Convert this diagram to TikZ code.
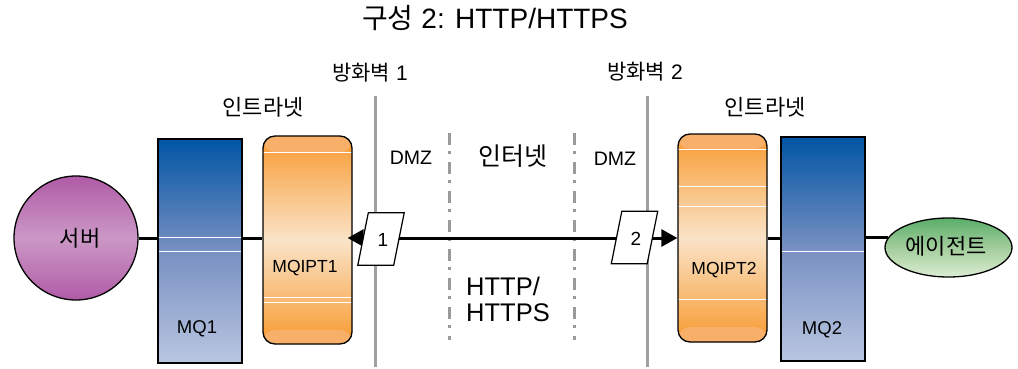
\documentclass[tikz,border=0pt]{standalone}
\usepackage{fontspec}
\setmainfont{Liberation Sans}
\newfontfamily\kr{Noto Sans CJK KR}
\usetikzlibrary{shapes.geometric,arrows.meta,calc}
\definecolor{purpleE}{HTML}{B05BA6}
\definecolor{purpleM}{HTML}{CB98C6}
\definecolor{blueT}{HTML}{0055A4}
\definecolor{blueM}{HTML}{7890C2}
\definecolor{blueB}{HTML}{B9C6E1}
\definecolor{orangeD}{HTML}{F89A30}
\definecolor{orangeL}{HTML}{FAE3C8}
\definecolor{orangeBand}{HTML}{F7AF69}
\definecolor{greenT}{HTML}{5AAE6A}
\definecolor{greenM}{HTML}{A3CD9C}
\definecolor{greenB}{HTML}{DCEDD3}
\definecolor{wallgray}{HTML}{A0A0A0}
\definecolor{dashgray}{HTML}{9A9A9A}
\tikzset{
  shapeborder/.style={draw=black, line width=1.3pt, inner sep=0pt},
  mqbox/.style={shapeborder, minimum width=84pt, minimum height=224pt,
    top color=blueT, bottom color=blueB, middle color=blueM},
  iptbox/.style={shapeborder, rounded corners=12pt, minimum width=89pt, minimum height=208pt,
    top color=orangeD, bottom color=orangeD, middle color=orangeL},
  pgframe/.style={rectangle, minimum width=46pt, minimum height=52pt, inner sep=0pt},
  pgdraw/.style={draw=black, line width=1.2pt, fill=white, line join=miter},
  wall/.style={draw=wallgray, line width=3pt},
  zone/.style={draw=dashgray, line width=3pt, dash pattern=on 12pt off 6pt on 3pt off 8pt},
  conn/.style={draw=black, line width=3pt},
  arr/.style={conn, -{Triangle[length=16pt,width=17pt]}},
  wline/.style={draw=white, line width=1pt},
  txt/.style={inner sep=0pt, text=black},
}
\newcommand{\whiteat}[1]{\draw[wline] ([yshift=-#1pt]path picture bounding box.north west) -- ([yshift=-#1pt]path picture bounding box.north east);}
\newcommand{\pgshape}[1]{\draw[pgdraw] (#1.south west) -- ([xshift=-10.5pt]#1.south east) -- (#1.north east) -- ([xshift=10.5pt]#1.north west) -- cycle;}
\begin{document}
\begin{tikzpicture}[x=1pt,y=-1pt]
\useasboundingbox[fill=white] (0,0) rectangle (1018,369);

% title
\node[txt, font=\fontsize{28}{32}\selectfont] (title) at (495,18) {{\kr 구성} 2: HTTP/HTTPS};

% firewalls
\node[txt, font=\fontsize{21}{24}\selectfont] (fw1) at (370,73) {{\kr 방화벽} 1};
\node[txt, font=\fontsize{21}{24}\selectfont] (fw2) at (645,72) {{\kr 방화벽} 2};
\coordinate (fw1t) at (375,96);
\coordinate (fw1b) at (375,367);
\coordinate (fw2t) at (647,96);
\coordinate (fw2b) at (647,367);
\draw[wall] (fw1t) -- (fw1b);
\draw[wall] (fw2t) -- (fw2b);

% zone boundaries
\coordinate (z1t) at (449,133);
\coordinate (z1b) at (449,340);
\coordinate (z2t) at (574,133);
\coordinate (z2b) at (574,340);
\draw[zone] (z1t) -- (z1b);
\draw[zone] (z2t) -- (z2b);

% zone labels
\node[txt, font=\kr\fontsize{22}{26}\selectfont] (intra1) at (263,107) {인트라넷};
\node[txt, font=\kr\fontsize{22}{26}\selectfont] (intra2) at (765,107) {인트라넷};
\node[txt, font=\fontsize{19.5}{22}\selectfont] (dmz1) at (411,158) {DMZ};
\node[txt, font=\fontsize{19.5}{22}\selectfont] (dmz2) at (615,159) {DMZ};
\node[txt, font=\kr\fontsize{25}{28}\selectfont] (inet) at (513,156) {인터넷};
\node[txt, font=\fontsize{25.5}{26}\selectfont, align=left, anchor=west] (proto) at (466,299) {HTTP/\\HTTPS};

% server
\node[shapeborder, circle, minimum size=124pt, top color=purpleE, bottom color=purpleE, middle color=purpleM] (srv) at (76,238) {};
\node[txt, font=\kr\fontsize{22}{26}\selectfont] (tsrv) at (80,238) {서버};

% MQ1
\node[mqbox, path picture={\whiteat{98}\whiteat{112}}] (mq1) at (200,251) {};
\node[txt, font=\fontsize{18.5}{22}\selectfont] (tmq1) at (197,329) {MQ1};

% MQIPT1
\node[iptbox, path picture={
    \fill[orangeBand] (path picture bounding box.north west) rectangle ([yshift=-16pt]path picture bounding box.north east);
    \fill[orangeBand] ([yshift=14pt]path picture bounding box.south west) rectangle (path picture bounding box.south east);
    \whiteat{16}\whiteat{161}\whiteat{166}}] (ipt1) at (307.5,240) {};
\node[txt, font=\fontsize{17.5}{20}\selectfont] (tipt1) at (305,268) {MQIPT1};

% MQIPT2
\node[iptbox, path picture={
    \fill[orangeBand] (path picture bounding box.north west) rectangle ([yshift=-15pt]path picture bounding box.north east);
    \fill[orangeBand] ([yshift=15pt]path picture bounding box.south west) rectangle (path picture bounding box.south east);
    \whiteat{15}\whiteat{52}\whiteat{72}\whiteat{165}}] (ipt2) at (722.5,238) {};
\node[txt, font=\fontsize{17.5}{20}\selectfont] (tipt2) at (724,270) {MQIPT2};

% MQ2
\node[mqbox, path picture={\whiteat{114}}] (mq2) at (823,249) {};
\node[txt, font=\fontsize{18.5}{22}\selectfont] (tmq2) at (822,330) {MQ2};

% agent
\node[shapeborder, ellipse, minimum width=127pt, minimum height=59pt, top color=greenT, bottom color=greenB, middle color=greenM] (agent) at (948.5,247.5) {};
\node[txt, font=\kr\fontsize{22}{26}\selectfont] (tagent) at (946,246) {에이전트};

% parallelogram frames
\node[pgframe] (p1) at (381,239) {};
\node[pgframe] (p2) at (634.5,237.5) {};

% connectors
\draw[conn] (srv.east) -- (srv.east -| mq1.west);
\draw[conn] (mq1.east |- srv.east) -- (srv.east -| ipt1.west);
\draw[arr] (p1.center |- srv.east) -- ([xshift=-5pt]ipt1.east |- srv.east);
\draw[conn] (p1.center |- srv.east) -- (p2.center |- srv.east);
\draw[arr] (p2.center |- srv.east) -- (ipt2.west |- srv.east);
\draw[conn] (ipt2.east |- srv.east) -- (srv.east -| mq2.west);
\draw[conn] (agent.171 -| mq2.east) -- (agent.171);

% parallelograms on top
\pgshape{p1}
\pgshape{p2}
\node[txt, font=\fontsize{19}{22}\selectfont] (tp1) at (383,240) {1};
\node[txt, font=\fontsize{19}{22}\selectfont] (tp2) at (636,239) {2};
\end{tikzpicture}
\end{document}
